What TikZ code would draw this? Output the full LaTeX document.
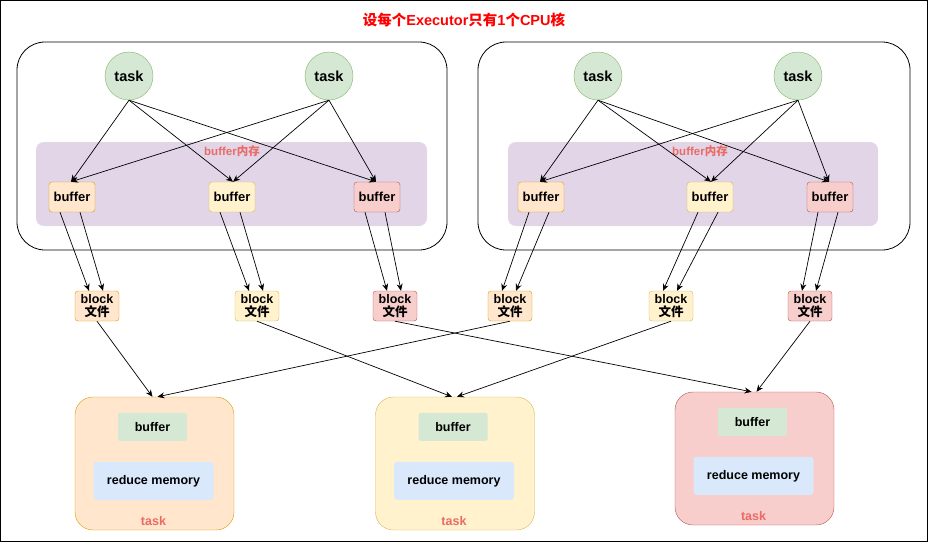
\documentclass[tikz,border=0pt]{standalone}
\usepackage{fontspec}
\setmainfont{Liberation Sans}
\newfontfamily\cjk{Noto Sans CJK SC}
\usetikzlibrary{arrows.meta,calc}
\definecolor{tred}{HTML}{EA6B66}
\definecolor{bandc}{HTML}{E1D5E7}
\definecolor{gd}{HTML}{82B366}\definecolor{gf}{HTML}{D5E8D4}
\definecolor{od}{HTML}{D79B00}\definecolor{of}{HTML}{FFE6CC}
\definecolor{yd}{HTML}{D6B656}\definecolor{yf}{HTML}{FFF2CC}
\definecolor{rd}{HTML}{B85450}\definecolor{rf}{HTML}{F8CECC}
\definecolor{bf}{HTML}{DAE8FC}
\begin{document}
\begin{tikzpicture}[x=1pt,y=-1pt,font=\bfseries\fontsize{13}{14}\selectfont,
  exec/.style={draw=black,rounded corners=28pt,line width=0.8pt},
  task/.style={circle,draw=gd,fill=gf,minimum size=48pt,inner sep=0pt,font=\bfseries\fontsize{14.5}{16}\selectfont},
  buf/.style={draw,rounded corners=3pt,minimum width=46pt,minimum height=30pt,inner sep=1pt},
  blk/.style={draw,rounded corners=3pt,minimum width=44pt,minimum height=30pt,inner sep=0pt,align=center,font=\bfseries\fontsize{12.5}{13}\selectfont},
  co/.style={fill=of,draw=od},
  cy/.style={fill=yf,draw=yd},
  cr/.style={fill=rf,draw=rd},
  rt/.style={rounded corners=18pt,minimum width=159pt,minimum height=133pt,inner sep=0pt},
  ib/.style={fill=gf,rounded corners=2pt,minimum width=69pt,minimum height=28pt,font=\bfseries\fontsize{12.5}{13}\selectfont},
  im/.style={fill=bf,rounded corners=3pt,minimum width=120pt,minimum height=38pt,font=\bfseries\fontsize{12.5}{13}\selectfont},
  tl/.style={text=tred,font=\bfseries\fontsize{12.5}{13}\selectfont},
  ar/.style={-{Stealth[length=7pt,width=6pt]},line width=0.7pt}]
\useasboundingbox (0,0) rectangle (928,542);
\draw[line width=1pt] (0.5,0.5) rectangle (927.5,541.5);
\node[text=red,font=\bfseries\fontsize{14.5}{16}\selectfont] (title) at (464,20) {{\cjk\bfseries 设每个}Executor{\cjk\bfseries 只有}1{\cjk\bfseries 个}CPU{\cjk\bfseries 核}};
\draw[exec] (17,42) rectangle (447,250);
\draw[exec] (478,42) rectangle (910,250);
\fill[bandc,rounded corners=8pt] (36,142) rectangle (427,226);
\fill[bandc,rounded corners=8pt] (508,142) rectangle (878,226);
\node[tl,font=\bfseries\fontsize{11.5}{12}\selectfont] (m1) at (232,151) {buffer{\cjk 内存}};
\node[tl,font=\bfseries\fontsize{11.5}{12}\selectfont] (m2) at (700,151) {buffer{\cjk 内存}};
\node[task] (t1) at (129,76) {task};
\node[task] (t2) at (329,76) {task};
\node[task] (t3) at (598,76) {task};
\node[task] (t4) at (798,76) {task};
\node[buf,co] (b1) at (72,197) {buffer};
\node[buf,cy] (b2) at (232,197) {buffer};
\node[buf,cr] (b3) at (377,197) {buffer};
\node[buf,co] (b4) at (541,197) {buffer};
\node[buf,cy] (b5) at (710,197) {buffer};
\node[buf,cr] (b6) at (830,197) {buffer};
\foreach \n/\x/\c in {1/97/co,2/257/cy,3/395/cr,4/510/co,5/671/cy,6/810/cr}
  \node[blk,\c] (k\n) at (\x,306) {block\\{\cjk 文件}};
\node[rt,co] (r1) at (154.5,463.5) {};
\node[rt,cy] (r2) at (455,463.5) {};
\node[rt,cr] (r3) at (754.5,458.5) {};
\foreach \i in {1,2,3}{
  \node[ib] (rb\i) at ($(r\i.north)+(-2,30)$) {buffer};
  \node[im] (rm\i) at ($(r\i.north)+(-1,84)$) {reduce memory};
  \node[tl] (rl\i) at ($(r\i.south)+(-1,-9)$) {task};
}
\foreach \t/\a/\b/\c in {t1/b1/b2/b3,t2/b1/b2/b3,t3/b4/b5/b6,t4/b4/b5/b6}{
  \draw[ar] (\t.south) -- ([xshift=-1pt]\a.north);
  \draw[ar] (\t.south) -- ([xshift=1pt]\b.north);
  \draw[ar] (\t.south) -- ([xshift=-1pt]\c.north);
}
\foreach \i in {1,...,6}{
  \draw[ar] ([xshift=-12pt]b\i.south) -- ([xshift=-8pt]k\i.north);
  \draw[ar] ([xshift=8pt]b\i.south) -- ([xshift=6pt]k\i.north);
}
\draw[ar] (k1.south) -- ([xshift=-2pt]r1.north);
\draw[ar] (k4.south) -- ([xshift=3pt]r1.north);
\draw[ar] (k2.south) -- ([xshift=-3pt]r2.north);
\draw[ar] (k5.south) -- ([xshift=2pt]r2.north);
\draw[ar] (k3.south) -- ([xshift=-3pt]r3.north);
\draw[ar] (k6.south) -- ([xshift=2pt]r3.north);
\end{tikzpicture}
\end{document}
